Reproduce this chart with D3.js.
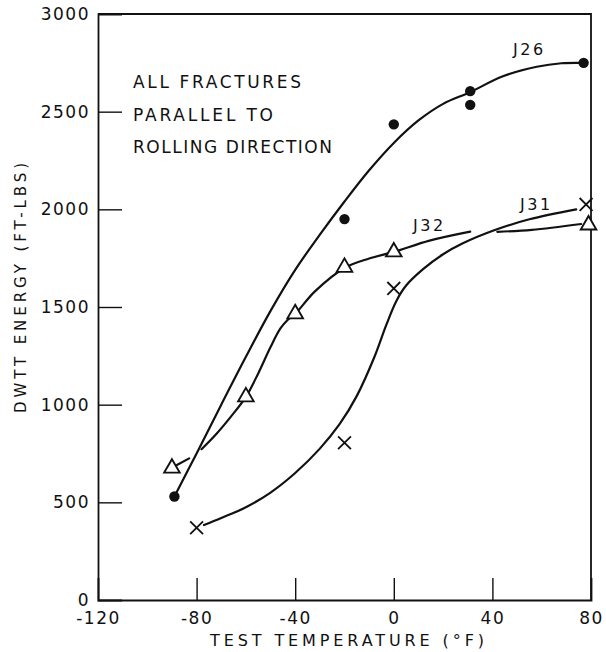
<!DOCTYPE html>
<html>
<head>
<meta charset="utf-8">
<script src="https://cdn.jsdelivr.net/npm/d3@7/dist/d3.min.js"></script>
<style>
  html, body { margin: 0; padding: 0; background: #fff; }
  svg { display: block; }
  text { font-family: "DejaVu Sans", "Liberation Sans", sans-serif; fill: #111; }
</style>
</head>
<body>
<div id="chart"></div>
<script>
// ---- Data ----
const xTicks = [-120, -80, -40, 0, 40, 80];
const yTicks = [0, 500, 1000, 1500, 2000, 2500, 3000];

// J26 (filled circles)
const j26Temp   = [-89, -20, 0, 31, 31, 77];
const j26Energy = [530, 1950, 2435, 2605, 2535, 2750];
// J31 (crosses)
const j31Temp   = [-80, -20, 0, 78];
const j31Energy = [370, 805, 1595, 2025];
// J32 (open triangles)
const j32Temp   = [-90, -60, -40, -20, 0, 79];
const j32Energy = [675, 1040, 1465, 1703, 1782, 1920];

// Hand-drawn fit curves
const j26CurveT = [-89, -80, -70, -60, -50, -40, -30, -20, -10, 0, 10, 20, 31, 44, 58, 68, 77];
const j26CurveE = [530, 750, 1000, 1245, 1480, 1690, 1870, 2040, 2200, 2340, 2455, 2540, 2600, 2680, 2730, 2748, 2750];

const j31CurveT = [-77, -70, -60, -50, -40, -30, -22, -15, -8, -3, 1, 5, 12, 20, 28, 41, 55, 74];
const j31CurveE = [384, 420, 475, 550, 650, 775, 900, 1045, 1240, 1410, 1530, 1610, 1695, 1770, 1826, 1894, 1949, 2000];

const j32StubT  = [-88, -83];
const j32StubE  = [691, 725];
const j32CurveT = [-78, -72, -66, -60, -55, -50, -46, -43, -40, -32, -20, -10, 0, 14.5, 31];
const j32CurveE = [772, 850, 940, 1040, 1160, 1295, 1390, 1435, 1465, 1580, 1700, 1748, 1782, 1840, 1886];
const j32TailT  = [42, 56, 76];
const j32TailE  = [1885, 1895, 1925];

const yTitle = "DWTT ENERGY   (FT-LBS)";
const xTitle = "TEST TEMPERATURE  (°F)";
const note = ["ALL FRACTURES", "PARALLEL TO", "ROLLING DIRECTION"];

// ---- Layout ----
const W = 606, H = 652;
const L = 98, R = 591, T = 14, B = 600;

const svg = d3.select("#chart").append("svg").attr("width", W).attr("height", H);

const x = d3.scaleLinear().domain([-120, 80]).range([L, R]);
const y = d3.scaleLinear().domain([0, 3000]).range([B, T]);

const zip = (a, b) => a.map((v, i) => [v, b[i]]);
const fmt = d => String(d);

// Frame (top and right sides)
svg.append("path")
  .attr("d", `M${L},${T}H${R}V${B}`)
  .attr("fill", "none").attr("stroke", "#111").attr("stroke-width", 1.8);

// Axes with inward ticks
const xAxis = svg.append("g").attr("transform", `translate(0,${B})`)
  .call(d3.axisBottom(x).tickValues(xTicks).tickSize(-22).tickPadding(12).tickFormat(fmt));
const yAxis = svg.append("g").attr("transform", `translate(${L},0)`)
  .call(d3.axisLeft(y).tickValues(yTicks).tickSize(-24).tickPadding(32).tickFormat(fmt));

[xAxis, yAxis].forEach(g => {
  g.select(".domain").attr("stroke", "#111").attr("stroke-width", 1.8);
  g.selectAll(".tick line").attr("stroke", "#111").attr("stroke-width", 1.4);
  g.selectAll(".tick text").attr("font-size", 17).attr("fill", "#111")
    .style("font-family", '"DejaVu Sans", sans-serif').attr("letter-spacing", 1.5);
});
yAxis.selectAll(".tick text").attr("x", -8);
// hide ticks at the corners
xAxis.selectAll(".tick line").filter(d => d === -120 || d === 80).remove();
yAxis.selectAll(".tick line").filter(d => d === 0 || d === 3000).remove();

// Axis titles
svg.append("text")
  .attr("transform", `translate(26,${(163 + 413) / 2}) rotate(-90)`)
  .attr("text-anchor", "middle").attr("font-size", 15)
  .attr("textLength", 250).attr("lengthAdjust", "spacing")
  .text(yTitle);

svg.append("text")
  .attr("x", (210 + 484) / 2).attr("y", 646)
  .attr("text-anchor", "middle").attr("font-size", 16)
  .attr("textLength", 274).attr("lengthAdjust", "spacing")
  .text(xTitle);

// Annotation
const noteLens = [168, 140, 199];
note.forEach((t, i) => {
  svg.append("text")
    .attr("x", 133).attr("y", 88 + i * 32.5)
    .attr("font-size", 17)
    .attr("textLength", noteLens[i]).attr("lengthAdjust", "spacing")
    .text(t);
});

// Curves
const line = d3.line().x(d => x(d[0])).y(d => y(d[1])).curve(d3.curveCatmullRom.alpha(0.5));
const curves = [
  zip(j26CurveT, j26CurveE),
  zip(j31CurveT, j31CurveE),
  zip(j32StubT, j32StubE),
  zip(j32CurveT, j32CurveE),
  zip(j32TailT, j32TailE)
];
svg.append("g").selectAll("path").data(curves).join("path")
  .attr("d", line).attr("fill", "none").attr("stroke", "#111")
  .attr("stroke-width", 2.2).attr("stroke-linecap", "round");

// Markers
svg.append("g").selectAll("circle").data(zip(j26Temp, j26Energy)).join("circle")
  .attr("cx", d => x(d[0])).attr("cy", d => y(d[1])).attr("r", 5.2).attr("fill", "#111");

const tri = d3.symbol(d3.symbolTriangle, 105);
svg.append("g").selectAll("path").data(zip(j32Temp, j32Energy)).join("path")
  .attr("transform", d => `translate(${x(d[0])},${y(d[1])})`)
  .attr("d", tri).attr("fill", "#fff").attr("stroke", "#111").attr("stroke-width", 1.9);

const cross = d3.symbol(d3.symbolTimes, 110);
svg.append("g").selectAll("path").data(zip(j31Temp, j31Energy)).join("path")
  .attr("transform", d => `translate(${x(d[0])},${y(d[1])})`)
  .attr("d", cross).attr("fill", "none").attr("stroke", "#111").attr("stroke-width", 1.8);

// Series labels
const labels = [["J26", 513, 55], ["J31", 520, 210], ["J32", 413, 231]];
svg.append("g").selectAll("text").data(labels).join("text")
  .attr("x", d => d[1]).attr("y", d => d[2])
  .attr("font-size", 16).attr("letter-spacing", 2.5)
  .text(d => d[0]);
</script>
</body>
</html>
